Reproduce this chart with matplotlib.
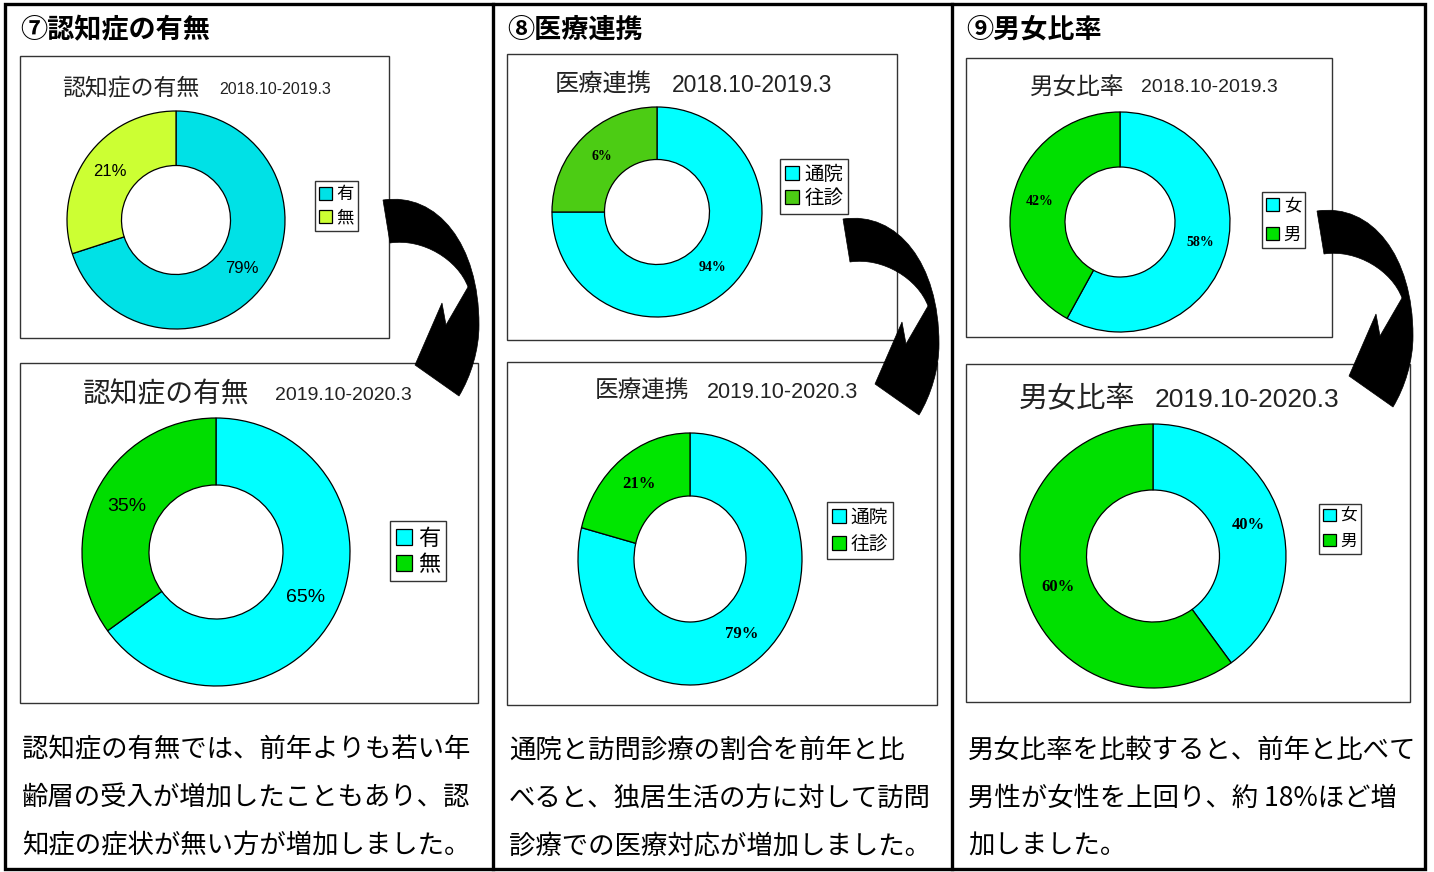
import matplotlib.pyplot as plt
from matplotlib.patches import Rectangle, PathPatch
from matplotlib.path import Path

plt.rcParams['font.family'] = ['Noto Sans CJK JP', 'DejaVu Sans']

W, H = 1434, 872

# ---- data (wedge shares as drawn, label text as printed) ----
dem_names = ['有', '無']
dem_prev = [70, 30]
dem_prev_text = ['79%', '21%']
dem_curr = [65, 35]
dem_curr_text = ['65%', '35%']

med_names = ['通院', '往診']
med_prev = [75, 25]
med_prev_text = ['94%', '6%']
med_curr = [79, 21]
med_curr_text = ['79%', '21%']

sex_names = ['女', '男']
sex_prev = [58, 42]
sex_prev_text = ['58%', '42%']
sex_curr = [40, 60]
sex_curr_text = ['40%', '60%']

headers = ['⑦認知症の有無', '⑧医療連携', '⑨男女比率']
notes = [
    ['認知症の有無では、前年よりも若い年', '齢層の受入が増加したこともあり、認', '知症の症状が無い方が増加しました。'],
    ['通院と訪問診療の割合を前年と比', 'べると、独居生活の方に対して訪問', '診療での医療対応が増加しました。'],
    ['男女比率を比較すると、前年と比べて', '男性が女性を上回り、約 18%ほど増', '加しました。'],
]

fig = plt.figure(figsize=(W / 100, H / 100), dpi=100)
bg = fig.add_axes([0, 0, 1, 1])
bg.set_xlim(0, W)
bg.set_ylim(H, 0)
bg.axis('off')

# outer frame and column dividers
bg.add_patch(Rectangle((5, 4), 1420, 865, fill=False, edgecolor='black', linewidth=2.4))
for x in [493, 952]:
    bg.plot([x, x], [4, 869], color='black', linewidth=2.4)

# chart boxes
boxes = [(20, 56, 389, 338), (20, 363, 478, 703),
         (507, 54, 897, 340), (507, 362, 937, 705),
         (966, 58, 1332, 337), (966, 364, 1410, 702)]
for x0, y0, x1, y1 in boxes:
    bg.add_patch(Rectangle((x0, y0), x1 - x0, y1 - y0, facecolor='white',
                           edgecolor='#333333', linewidth=1.0))

# headers and notes
col_x = [20, 507, 966]
for i, h in enumerate(headers):
    bg.text(col_x[i], 30, h, fontsize=19.5, weight='bold', va='center', ha='left')
    for j, line in enumerate(notes[i]):
        bg.text(col_x[i] + 2, 750 + 48 * j, line, fontsize=19, va='center', ha='left')

# chart titles: (jp, x, date, x, y, jp size, date size)
titles = [
    ('認知症の有無', 62, '2018.10-2019.3', 219, 88, 16.5, 11.5),
    ('認知症の有無', 83, '2019.10-2020.3', 275, 394, 20, 14),
    ('医療連携', 555, '2018.10-2019.3', 672, 85, 17.5, 16.5),
    ('医療連携', 595, '2019.10-2020.3', 707, 391, 17, 15.5),
    ('男女比率', 1030, '2018.10-2019.3', 1141, 87, 17, 14),
    ('男女比率', 1019, '2019.10-2020.3', 1155, 399, 21, 19),
]
for jp, jx, dt, dx, y, js, ds in titles:
    bg.text(jx, y, jp, fontsize=js, color='#222222', va='center', ha='left')
    bg.text(dx, y + 1, dt, fontsize=ds, family='Liberation Sans', color='#222222',
            va='center', ha='left')


def donut(cx, cy, rx, ry, sizes, texts, colors, names, pct_size, pct_font, pct_weight,
          leg_xy, leg_size, leg_space=0.15):
    ax = fig.add_axes([(cx - rx) / W, 1 - (cy + ry) / H, 2 * rx / W, 2 * ry / H])
    wedges, txts = ax.pie(sizes, colors=colors, labels=texts, labeldistance=0.75,
                          startangle=90, counterclock=False, radius=1,
                          wedgeprops=dict(width=0.5, edgecolor='black', linewidth=0.9),
                          textprops=dict(family=pct_font, fontsize=pct_size,
                                         weight=pct_weight))
    for t in txts:
        t.set_ha('center')
        t.set_va('center')
    for w in wedges:
        w.set_clip_on(False)
    ax.set_xlim(-1, 1)
    ax.set_ylim(-1, 1)
    ax.set_aspect('auto')
    leg = ax.legend(wedges, names, loc='upper left',
                    bbox_to_anchor=(leg_xy[0] / W, 1 - leg_xy[1] / H),
                    bbox_transform=fig.transFigure, fancybox=False, framealpha=1,
                    edgecolor='#333333', fontsize=leg_size, handlelength=0.75,
                    handleheight=0.75, handletextpad=0.25, borderpad=0.25,
                    labelspacing=leg_space, borderaxespad=0)
    leg.get_frame().set_linewidth(1.0)
    return ax


donut(176, 220, 109, 109, dem_prev, dem_prev_text, ['#00e1e6', '#ccff33'], dem_names,
      12, 'Liberation Sans', 'normal', (315, 181), 12.5, 0.3)
donut(216, 552, 134, 134, dem_curr, dem_curr_text, ['#00ffff', '#00dd00'], dem_names,
      14, 'Liberation Sans', 'normal', (390, 521), 16, 0.15)
donut(657, 212, 105, 105, med_prev, med_prev_text, ['#00ffff', '#4ccc14'], med_names,
      10, 'Liberation Serif', 'bold', (780, 159), 14, 0.15)
donut(690, 559, 112, 126, med_curr, med_curr_text, ['#00ffff', '#00e600'], med_names,
      12, 'Liberation Serif', 'bold', (827, 502), 13.5, 0.3)
donut(1120, 222, 110, 110, sex_prev, sex_prev_text, ['#00ffff', '#00e000'], sex_names,
      10, 'Liberation Serif', 'bold', (1262, 192), 12.5, 0.65)
donut(1153, 556, 133, 132, sex_curr, sex_curr_text, ['#00ffff', '#00e000'], sex_names,
      12, 'Liberation Serif', 'bold', (1319, 504), 12, 0.45)

# curved arrows on top
ov = fig.add_axes([0, 0, 1, 1])
ov.set_xlim(0, W)
ov.set_ylim(H, 0)
ov.axis('off')
arrow_verts = [(0, 0), (55, -8), (96, 45), (96, 125),
               (96, 150), (88, 176), (76, 196),
               (32, 165), (59, 103), (63, 125), (85, 87),
               (75, 60), (40, 38), (7, 43), (0, 0)]
arrow_codes = [Path.MOVETO, Path.CURVE4, Path.CURVE4, Path.CURVE4,
               Path.CURVE4, Path.CURVE4, Path.CURVE4,
               Path.LINETO, Path.LINETO, Path.LINETO, Path.LINETO,
               Path.CURVE4, Path.CURVE4, Path.CURVE4, Path.CLOSEPOLY]
for sx, sy in [(383, 200), (843, 219), (1317, 211)]:
    p = Path([(sx + px, sy + py) for px, py in arrow_verts], arrow_codes)
    ov.add_patch(PathPatch(p, facecolor='black', edgecolor='black', linewidth=0.5))

fig.savefig('out.png', dpi=100)
